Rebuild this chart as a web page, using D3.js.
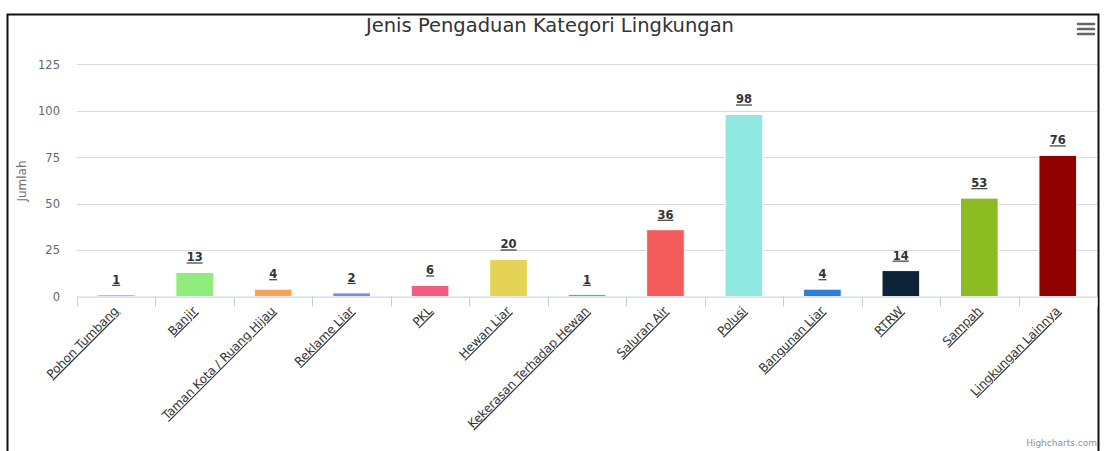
<!DOCTYPE html>
<html><head><meta charset="utf-8">
<script src="https://cdn.jsdelivr.net/npm/d3@7"></script>
<style>
html,body{margin:0;padding:0;background:#fff;}
svg{display:block;font-family:"DejaVu Sans",Verdana,sans-serif;}
</style></head>
<body>
<svg id="c" width="1107" height="451"></svg>
<script>
const categories = ["Pohon Tumbang","Banjir","Taman Kota / Ruang Hijau","Reklame Liar","PKL","Hewan Liar","Kekerasan Terhadap Hewan","Saluran Air","Polusi","Bangunan Liar","RTRW","Sampah","Lingkungan Lainnya"];
const values = [1,13,4,2,6,20,1,36,98,4,14,53,76];
const colors = ["#7cb5ec","#90ed7d","#f7a35c","#8085e9","#f15c80","#e4d354","#2b908f","#f45b5b","#91e8e1","#2f7ed8","#0d233a","#8bbc21","#910000"];
const yTicks = [0,25,50,75,100,125];
const title = "Jenis Pengaduan Kategori Lingkungan";
const yTitle = "Jumlah";
const credits = "Highcharts.com";

const svg = d3.select("#c");
const L = 77, R = 1097, T = 64.3, B = 296.6;
const x = d3.scaleBand().domain(categories).range([L, R]).paddingInner(0).paddingOuter(0);
const y = d3.scaleLinear().domain([0,125]).range([B, T]);

// frame
svg.append("rect").attr("x",7.5).attr("y",14.5).attr("width",1091).attr("height",460)
  .attr("fill","none").attr("stroke","#111").attr("stroke-width",2);

// title
svg.append("text").attr("x",550).attr("y",32).attr("text-anchor","middle")
  .attr("font-size",19.5).attr("fill","#333").text(title);

// grid
svg.append("g").selectAll("line").data(yTicks.filter(d=>d>0)).join("line")
  .attr("x1",L).attr("x2",R).attr("y1",d=>Math.round(y(d))+0.5).attr("y2",d=>Math.round(y(d))+0.5)
  .attr("stroke","#d8d8d8").attr("stroke-width",1);

// y axis labels
const yAxis = d3.axisLeft(y).tickValues(yTicks).tickSize(0).tickPadding(0);
const gy = svg.append("g").attr("transform",`translate(60,0)`).call(yAxis);
gy.select(".domain").remove();
gy.selectAll("text").attr("font-size",11.5).attr("fill","#666").attr("font-family","DejaVu Sans").attr("dy","0.33em");

// y title
svg.append("text").attr("transform","translate(26,181) rotate(-90)").attr("text-anchor","middle")
  .attr("font-size",12).attr("fill","#707070").text(yTitle);

// bars
const bw = x.bandwidth()*0.48;
svg.append("g").selectAll("rect").data(values).join("rect")
  .attr("x",(d,i)=>x(categories[i])+x.bandwidth()/2-bw/2)
  .attr("y",d=>y(d))
  .attr("width",bw)
  .attr("height",d=>B-y(d))
  .attr("fill",(d,i)=>colors[i])
  .attr("stroke","#fff").attr("stroke-width",1);

// x axis
const xAxis = d3.axisBottom(x).tickSize(0).tickFormat("");
const gx = svg.append("g").attr("transform",`translate(0,${B})`).call(xAxis);
gx.select(".domain").attr("stroke","#c0d0e0").attr("d",`M${L},0.5H${R}`);
// category boundary ticks
const bounds = categories.map(c=>x(c)).concat([R]);
svg.append("g").selectAll("line").data(bounds).join("line")
  .attr("x1",d=>Math.round(d)+0.5).attr("x2",d=>Math.round(d)+0.5)
  .attr("y1",B).attr("y2",B+10).attr("stroke","#c0d0e0");

// x labels
svg.append("g").selectAll("text").data(categories).join("text")
  .attr("transform",c=>`translate(${x(c)+x.bandwidth()/2+3},${B+15}) rotate(-45)`)
  .attr("text-anchor","end").attr("font-size",12).attr("fill","#333")
  .style("text-decoration","underline").text(c=>c);

// data labels
svg.append("g").selectAll("text").data(values).join("text")
  .attr("x",(d,i)=>x(categories[i])+x.bandwidth()/2)
  .attr("y",d=>y(d)-11)
  .attr("text-anchor","middle").attr("font-size",11.5).attr("font-weight","bold").attr("fill","#333")
  .style("text-decoration","underline").text(d=>d);

// menu icon
svg.append("g").selectAll("line").data([0,1,2]).join("line")
  .attr("x1",1078).attr("x2",1094).attr("y1",d=>24+d*5).attr("y2",d=>24+d*5)
  .attr("stroke","#666").attr("stroke-width",2.5).attr("stroke-linecap","round");

// credits
svg.append("text").attr("x",1097).attr("y",446).attr("text-anchor","end")
  .attr("font-size",9).attr("fill","#909090").text(credits);
</script>
</body></html>
